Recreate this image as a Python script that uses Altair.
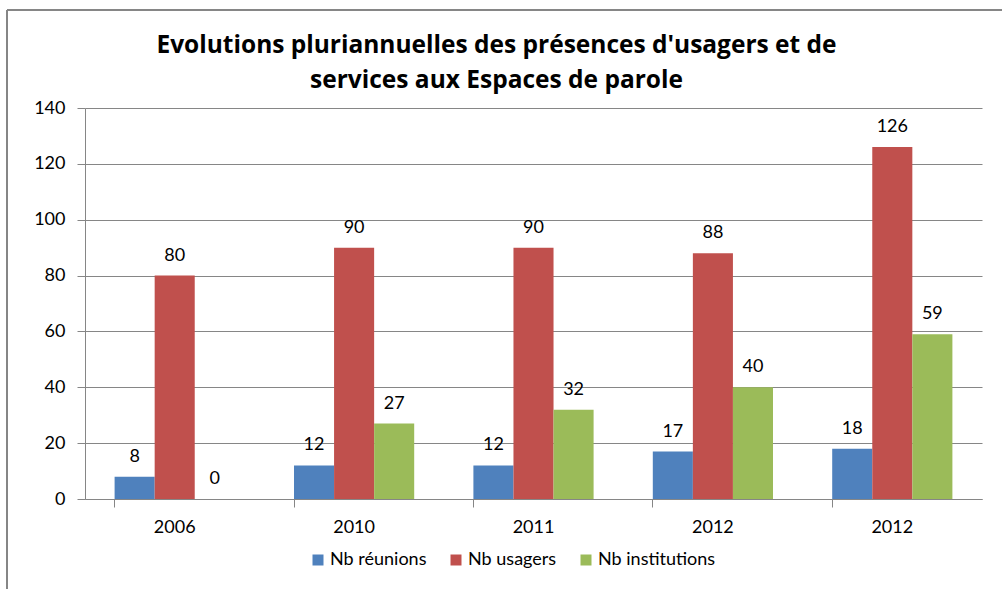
import altair as alt
import pandas as pd

years = ["2006", "2010", "2011", "2012", "2012"]
series = ["Nb réunions", "Nb usagers", "Nb institutions"]
reunions = [8, 12, 12, 17, 18]
usagers = [80, 90, 90, 88, 126]
institutions = [0, 27, 32, 40, 59]
colors = ["#4F81BD", "#C0504D", "#9BBB59"]

rows = []
for i, y in enumerate(years):
    for s, vals in zip(series, [reunions, usagers, institutions]):
        rows.append({"idx": i, "year": y, "serie": s, "value": vals[i]})
df = pd.DataFrame(rows)

FONT = "Lato"
FS = 18
label_expr = "[" + ",".join("'%s'" % y for y in years) + "][datum.value]"

x = alt.X("idx:O", title=None,
          scale=alt.Scale(paddingInner=0.33, paddingOuter=0.165),
          axis=alt.Axis(labelExpr=label_expr, labelAngle=0, bandPosition=0,
                        tickSize=8, labelPadding=11, domainColor="#868686",
                        tickColor="#868686", labelFontSize=FS, labelColor="#000",
                        labelFont=FONT))
xo = alt.XOffset("serie:N", sort=series)

base = alt.Chart(df).encode(x=x, xOffset=xo)

bars = base.mark_bar().encode(
    y=alt.Y("value:Q", title=None,
            scale=alt.Scale(domain=[0, 140]),
            axis=alt.Axis(values=list(range(0, 141, 20)), tickSize=8, labelPadding=12,
                          gridColor="#868686", domainColor="#868686", tickColor="#868686",
                          labelFontSize=FS, labelColor="#000", labelFont=FONT)),
    color=alt.Color("serie:N", sort=series,
                    scale=alt.Scale(domain=series, range=colors),
                    legend=alt.Legend(title=None, orient="none", direction="horizontal",
                                      legendX=224, legendY=443, symbolType="square",
                                      symbolSize=121, symbolStrokeWidth=0,
                                      labelFontSize=FS, labelFont=FONT, labelColor="#000",
                                      columnPadding=20, labelOffset=3)),
)

labels = base.mark_text(baseline="bottom", dy=-11, fontSize=FS, font=FONT, color="#000").encode(
    y="value:Q", text="value:Q"
)

frame_top = alt.Chart(df).mark_rule(color="#868686", strokeWidth=2).encode(
    x=alt.value(-78), x2=alt.value(930), y=alt.value(-98)
)
frame_left = alt.Chart(df).mark_rule(color="#868686", strokeWidth=2).encode(
    x=alt.value(-78), y=alt.value(-98), y2=alt.value(485)
)

chart = alt.layer(bars, labels, frame_top, frame_left).properties(
    width=897, height=391,
    title=alt.Title(["Evolutions pluriannuelles des présences d'usagers et de",
                     "services aux Espaces de parole"],
                    font="Open Sans", fontSize=24.5, fontWeight="bold", color="#000",
                    anchor="middle", frame="group", dx=-37, offset=-84, lineHeight=35),
    autosize=alt.AutoSizeParams(type="none"),
    padding={"left": 85, "top": 108, "right": 20, "bottom": 90},
).configure_view(stroke=None).configure_axis(grid=True).configure_axisX(grid=False)

chart.save("out.html", embed_options={"renderer": "svg", "actions": False})
